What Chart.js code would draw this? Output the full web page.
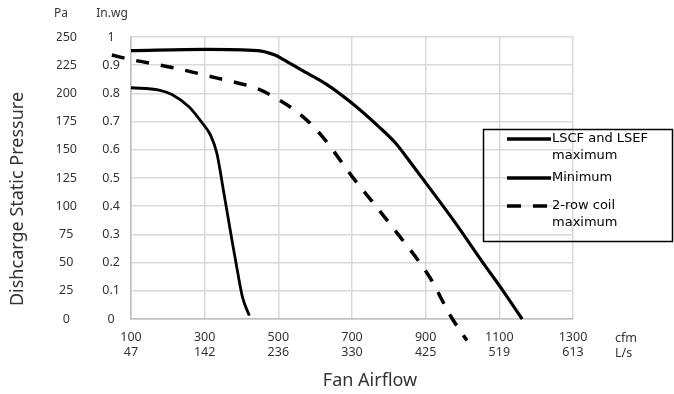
<!DOCTYPE html>
<html lang="en">
<head>
    <meta charset="UTF-8">
    <title>Fan Airflow</title>
    <script src="https://cdn.jsdelivr.net/npm/chart.js@4.4.0/dist/chart.umd.min.js"></script>
    <style>
        html, body { margin: 0; padding: 0; background: #fff; }
        .container { width: 674px; height: 394px; position: relative; }
    </style>
</head>
<body>
    <div class="container">
        <canvas id="fan-chart"></canvas>
    </div>
<script>

    // x axis ticks: cfm with the matching L/s value underneath
    const cfmTicks = [100, 300, 500, 700, 900, 1100, 1300];
    const lpsTicks = [47, 142, 236, 330, 425, 519, 613];

    // LSCF and LSEF maximum
    const maxFlow = [100, 304, 444, 491, 514, 561, 631, 701, 771, 818, 865, 911, 981, 1051, 1110, 1162];
    const maxPa = [238, 239, 238, 234, 230, 221, 208, 191, 171, 156, 136, 116, 85, 52, 25, 0];

    // Minimum
    const minFlow = [100, 176, 211, 258, 293, 316, 333, 351, 374, 392, 403, 421];
    const minPa = [205, 203, 199, 188, 174, 163, 147, 114, 70, 37, 19, 3];

    // 2-row coil maximum
    const coilFlow = [48, 100, 211, 328, 444, 503, 561, 619, 701, 760, 830, 911, 969, 1012];
    const coilPa = [234, 230, 223, 214, 204, 194, 181, 162, 126, 102, 73, 37, 2, -19];

    const legendItems = [
        { lines: ['LSCF and LSEF', 'maximum'], dash: [], width: 3.5 },
        { lines: ['Minimum'], dash: [], width: 3.5 },
        { lines: ['2-row coil', 'maximum'], dash: [14, 12], width: 3.5 }
    ];

    const toPoints = (xs, ys) => xs.map((x, i) => ({ x: x, y: ys[i] }));

    const tickFont = { family: 'Noto Sans', size: 12.5 };
    const textColor = '#333333';

    const extras = {
        id: 'extras',
        afterDraw(chart) {
            const c = chart.ctx;
            c.save();
            c.fillStyle = textColor;
            c.textBaseline = 'middle';

            c.font = '12px "Noto Sans"';
            c.textAlign = 'center';
            c.fillText('Pa', 61, 14);
            c.fillText('In.wg', 112, 14);
            c.textAlign = 'left';
            c.font = '12.5px "Noto Sans"';
            c.fillText('cfm', 615, 338);
            c.fillText('L/s', 615, 353);

            c.font = '18px "Noto Sans"';
            c.textAlign = 'center';
            c.fillText('Fan Airflow', 370, 381);
            c.save();
            c.translate(18, 199);
            c.rotate(-Math.PI / 2);
            c.fillText('Dishcarge Static Pressure', 0, 0);
            c.restore();

            // legend box
            c.strokeStyle = '#000';
            c.lineWidth = 1.5;
            c.strokeRect(483.5, 129.5, 189, 112);
            c.fillStyle = '#000';
            c.font = '13px "DejaVu Sans"';
            c.textAlign = 'left';
            const rows = [139, 178, 206];
            legendItems.forEach((item, i) => {
                const y = rows[i];
                c.beginPath();
                c.setLineDash(item.dash);
                c.lineWidth = item.width;
                c.moveTo(507, y);
                c.lineTo(551, y);
                c.stroke();
                c.setLineDash([]);
                item.lines.forEach((t, j) => c.fillText(t, 552, y + j * 17));
            });
            c.restore();
        }
    };

    const lineStyle = {
        showLine: true,
        fill: false,
        borderColor: '#000',
        pointRadius: 0,
        cubicInterpolationMode: 'monotone',
        clip: false,
        xAxisID: 'x',
        yAxisID: 'y'
    };

    const chart = new Chart(document.getElementById('fan-chart'), {
        type: 'scatter',
        data: {
            datasets: [
                Object.assign({ label: 'LSCF and LSEF maximum', data: toPoints(maxFlow, maxPa), borderWidth: 3.2 }, lineStyle),
                Object.assign({ label: 'Minimum', data: toPoints(minFlow, minPa), borderWidth: 2.8 }, lineStyle),
                Object.assign({ label: '2-row coil maximum', data: toPoints(coilFlow, coilPa), borderWidth: 3.5, borderDash: [13, 12] }, lineStyle)
            ]
        },
        options: {
            responsive: true,
            maintainAspectRatio: false,
            animation: false,
            layout: { padding: { left: 57, top: 37, right: 101, bottom: 0 } },
            plugins: {
                legend: { display: false },
                tooltip: { enabled: false }
            },
            scales: {
                x: {
                    type: 'linear',
                    min: 100,
                    max: 1300,
                    afterBuildTicks: (scale) => { scale.ticks = cfmTicks.map(v => ({ value: v })); },
                    afterFit: (scale) => { scale.height = 75; },
                    ticks: {
                        font: tickFont,
                        color: textColor,
                        padding: 11,
                        maxRotation: 0,
                        autoSkip: false,
                        callback: (value) => {
                            const i = cfmTicks.indexOf(value);
                            return i < 0 ? '' : [String(value), String(lpsTicks[i])];
                        }
                    },
                    grid: { color: '#d9d9d9', lineWidth: 1.5, drawTicks: false },
                    border: { color: '#bfbfbf', width: 1.5 }
                },
                y: {
                    type: 'linear',
                    position: 'left',
                    weight: 1,
                    min: 0,
                    max: 250,
                    afterFit: (scale) => { scale.width = 45; },
                    ticks: {
                        stepSize: 25,
                        font: tickFont,
                        color: textColor,
                        padding: 25,
                        crossAlign: 'center'
                    },
                    grid: { display: false, drawTicks: false },
                    border: { display: false }
                },
                inwg: {
                    type: 'linear',
                    position: 'left',
                    weight: 0,
                    min: 0,
                    max: 1,
                    afterFit: (scale) => { scale.width = 29; },
                    ticks: {
                        stepSize: 0.1,
                        font: tickFont,
                        color: textColor,
                        padding: 11,
                        crossAlign: 'center',
                        callback: (v) => String(Number(v.toFixed(1)))
                    },
                    grid: { color: '#d9d9d9', lineWidth: 1.5, drawTicks: false },
                    border: { color: '#bfbfbf', width: 1.5 }
                }
            }
        },
        plugins: [extras]
    });

</script>
</body>
</html>
